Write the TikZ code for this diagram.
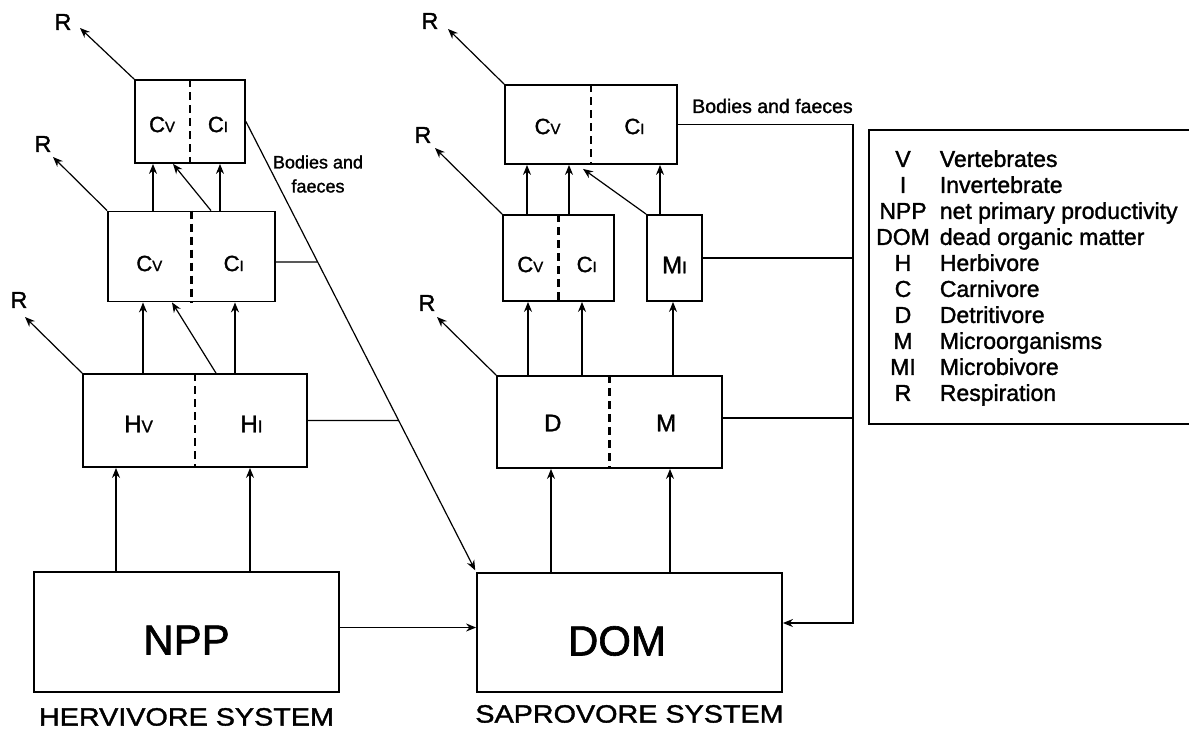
\documentclass[tikz,border=0pt]{standalone}
\usepackage{fontspec}
\setmainfont{Liberation Sans}[FakeBold=1.5]
\newfontfamily\widefont{Liberation Sans}[FakeStretch=1.15, FakeBold=1.5]
\usetikzlibrary{arrows.meta, positioning, calc, intersections}

\newcommand{\fsz}[1]{\fontsize{#1}{#1}\selectfont}
\newcommand{\smc}[1]{{\fontsize{15}{15}\selectfont #1}}
\newcommand{\smh}[1]{{\fontsize{17}{17}\selectfont #1}}

\begin{document}
\begin{tikzpicture}[
    x=1pt, y=-1pt,
    pbox/.style={rectangle, draw, line width=1.8pt, inner sep=0pt},
    divider/.style={line width=2.2pt, dash pattern=on 8pt off 5pt},
    arr/.style={-{Stealth[length=10pt, width=8pt]}, line width=1.2pt},
    ln/.style={line width=1.2pt},
    rlab/.style={font=\fsz{23}, inner sep=0pt},
    clab/.style={font=\fsz{22}, inner sep=0pt},
    hlab/.style={font=\fsz{24}, inner sep=0pt},
    biglab/.style={font=\fsz{42}, inner sep=0pt},
    syslab/.style={font=\widefont\fsz{25}, inner sep=0pt},
    note/.style={inner sep=0pt, align=center}
]
\useasboundingbox (0,0) rectangle (1189,734);

% Herbivore system boxes
\node[pbox, minimum width=305, minimum height=120] (npp) at (186.5,632) {};
\node[pbox, minimum width=224, minimum height=93] (herb) at (195,420.5) {};
\node[pbox, minimum width=167, minimum height=90] (cmid) at (191.5,256.5) {};
\node[pbox, minimum width=110, minimum height=83] (ctop) at (190,121.5) {};

% Saprovore system boxes
\node[pbox, minimum width=305, minimum height=119] (dom) at (629.5,632.5) {};
\node[pbox, minimum width=225, minimum height=92] (dm) at (609.5,422) {};
\node[pbox, minimum width=111, minimum height=86] (cmidr) at (558.5,258) {};
\node[pbox, minimum width=55, minimum height=86] (mi) at (674.5,258) {};
\node[pbox, minimum width=172, minimum height=79] (ctopr) at (591,124.5) {};

% Dividers
\draw[divider] (herb.north) -- (herb.south);
\draw[divider] (cmid.north) -- (cmid.south);
\draw[divider] (ctop.north) -- (ctop.south);
\draw[divider] (dm.north) -- (dm.south);
\draw[divider] (cmidr.north) -- (cmidr.south);
\draw[divider] (ctopr.north) -- (ctopr.south);

% Box texts
\node[biglab] (npptxt) at ($(npp.center)+(0,8)$) {NPP};
\node[biglab] (domtxt) at ($(dom.center)+(-12.5,8.5)$) {DOM};
\node[syslab, below=15pt of npp] (hsys) {HERVIVORE SYSTEM};
\node[syslab, below=12pt of dom] (ssys) {SAPROVORE SYSTEM};

\node[hlab] (hv) at ($(herb.center)!0.5!(herb.west)+(0,3.5)$) {H\smh{V}};
\node[hlab] (hi) at ($(herb.center)!0.5!(herb.east)+(0,3.5)$) {H\smh{I}};
\node[clab] (cmidv) at ($(cmid.center)!0.5!(cmid.west)+(0,7)$) {C\smc{V}};
\node[clab] (cmidi) at ($(cmid.center)!0.5!(cmid.east)+(0,7)$) {C\smc{I}};
\node[clab] (ctopv) at ($(ctop.center)!0.5!(ctop.west)+(0,3)$) {C\smc{V}};
\node[clab] (ctopi) at ($(ctop.center)!0.5!(ctop.east)+(0,3)$) {C\smc{I}};

\node[hlab] (dtxt) at ($(dm.center)!0.5!(dm.west)+(0,1)$) {D};
\node[hlab] (mtxt) at ($(dm.center)!0.5!(dm.east)+(0,1)$) {M};
\node[clab] (cmidrv) at ($(cmidr.center)!0.5!(cmidr.west)+(0,6.5)$) {C\smc{V}};
\node[clab] (cmidri) at ($(cmidr.center)!0.5!(cmidr.east)+(0,6.5)$) {C\smc{I}};
\node[hlab] (mitxt) at ($(mi.center)+(0,7)$) {M\smh{I}};
\node[clab] (ctoprv) at ($(ctopr.center)!0.5!(ctopr.west)+(0,2)$) {C\smc{V}};
\node[clab] (ctopri) at ($(ctopr.center)!0.5!(ctopr.east)+(0,2)$) {C\smc{I}};

% Respiration
\coordinate (t1) at (80,28);
\coordinate (t2) at (53,157);
\coordinate (t3) at (25,317);
\coordinate (t4) at (448,29);
\coordinate (t5) at (435,148);
\coordinate (t6) at (437,317);
\node[rlab] (r1) at (63,22) {R};
\node[rlab] (r2) at (43,144) {R};
\node[rlab] (r3) at (19,300) {R};
\node[rlab] (r4) at (430,21) {R};
\node[rlab] (r5) at (423,135) {R};
\node[rlab] (r6) at (427,303) {R};
\draw[arr] (ctop.north west) -- (t1);
\draw[arr] (cmid.north west) -- (t2);
\draw[arr] (herb.north west) -- (t3);
\draw[arr] (ctopr.north west) -- (t4);
\draw[arr] (cmidr.north west) -- (t5);
\draw[arr] (dm.north west) -- (t6);

% Grazing chain
\draw[arr] (npp.north -| 116,0) -- (herb.south -| 116,0);
\draw[arr] (npp.north -| 250,0) -- (herb.south -| 250,0);
\draw[arr] (herb.north -| 143,0) -- (cmid.south -| 143,0);
\draw[arr] (herb.north -| 216,0) -- (cmid.south -| 172,0);
\draw[arr] (herb.north -| 235,0) -- (cmid.south -| 235,0);
\draw[arr] (cmid.north -| 153,0) -- (ctop.south -| 153,0);
\draw[arr] (cmid.north -| 211,0) -- (ctop.south -| 173,0);
\draw[arr] (cmid.north -| 220,0) -- (ctop.south -| 220,0);

% Detritus chain
\draw[arr] (dom.north -| 551,0) -- (dm.south -| 551,0);
\draw[arr] (dom.north -| 670,0) -- (dm.south -| 670,0);
\draw[arr] (dm.north -| 528,0) -- (cmidr.south -| 528,0);
\draw[arr] (dm.north -| 582,0) -- (cmidr.south -| 582,0);
\draw[arr] (dm.north -| 673,0) -- (mi.south -| 673,0);
\draw[arr] (cmidr.north -| 527,0) -- (ctopr.south -| 527,0);
\draw[arr] (cmidr.north -| 569,0) -- (ctopr.south -| 569,0);
\draw[arr] (mi.north west) -- ($(ctopr.south -| 583,0)+(0,4)$);
\draw[arr] (mi.north -| 660,0) -- (ctopr.south -| 660,0);

% Bodies and faeces, herbivore side
\draw[arr, shorten >=2pt, name path=bodies] (ctop.east) -- (dom.north west);
\coordinate (cout) at ($(cmid.east)+(0,5.5)$);
\path[name path=hc] (cout) -- +(150,0);
\draw[ln, name intersections={of=bodies and hc, by=jc}] (cout) -- (jc);
\path[name path=hh] (herb.east) -- +(150,0);
\draw[ln, name intersections={of=bodies and hh, by=jh}] (herb.east) -- (jh);
\node[note, font=\fontsize{18}{24}\selectfont] (bodl) at (318,174) {Bodies and\\faeces};

% Bodies and faeces, saprovore side
\coordinate (rail) at (853,623);
\draw[arr] (ctopr.east) -| (rail) -- (dom.east |- rail);
\draw[ln] (mi.east) -- (mi.east -| rail);
\coordinate (dmout) at ($(dm.east)+(0,-4)$);
\draw[ln] (dmout) -- (dmout -| rail);
\node[note, font=\fsz{19.5}] (bodr) at (772.5,106) {Bodies and faeces};

% NPP to DOM
\coordinate (nppout) at ($(npp.east)+(0,-4.5)$);
\draw[arr] (nppout) -- (nppout -| dom.west);

% Legend
\node[pbox, line width=1.6pt, minimum width=330, minimum height=294, anchor=north west] (legend) at (868,129) {};
\node[anchor=north west, inner sep=0pt, font=\fontsize{23}{26}\selectfont] (keys) at ($(legend.north west)+(8,19.5)$) {%
\begin{tabular}{@{}c@{\hspace{10pt}}l@{}}
V & Vertebrates\\
I & Invertebrate\\
NPP & net primary productivity\\
DOM & dead organic matter\\
H & Herbivore\\
C & Carnivore\\
D & Detritivore\\
M & Microorganisms\\
MI & Microbivore\\
R & Respiration
\end{tabular}};

\end{tikzpicture}
\end{document}
